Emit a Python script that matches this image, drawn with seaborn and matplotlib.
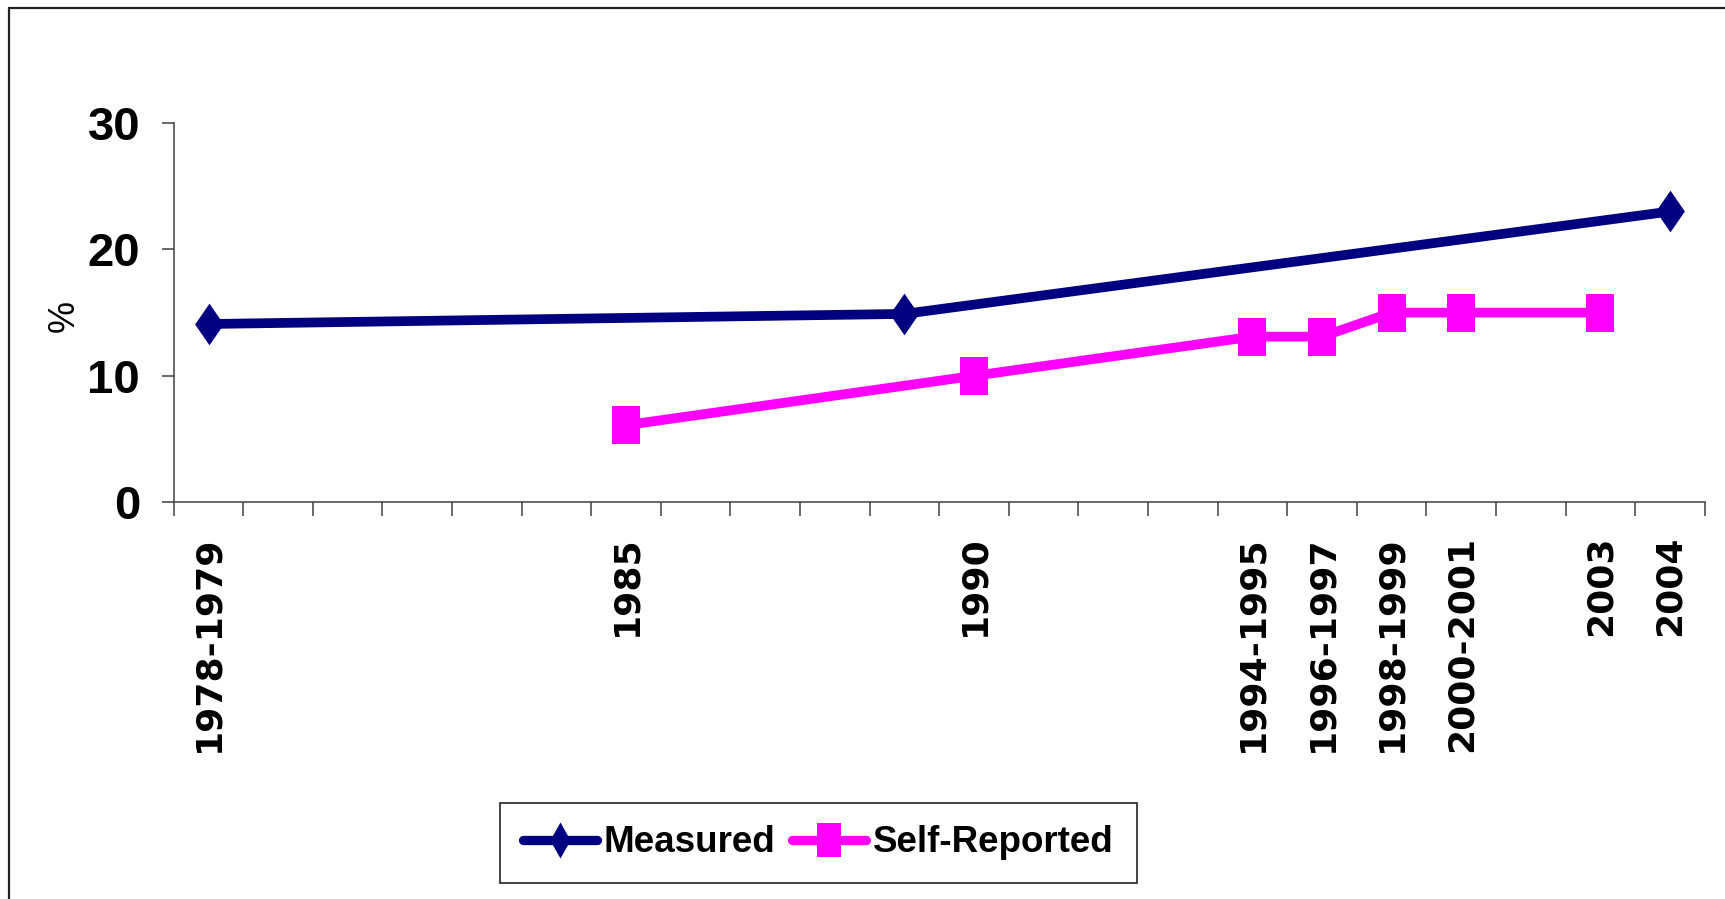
import numpy as np
import pandas as pd
import matplotlib
matplotlib.use("Agg")
import matplotlib.pyplot as plt
from matplotlib.path import Path
from matplotlib.lines import Line2D
import seaborn as sns

# Survey periods along the x axis; blank slots keep the spacing in time
period_labels = ["1978-1979", "", "", "", "", "", "1985", "", "", "", "", "1990",
                 "", "", "", "1994-1995", "1996-1997", "1998-1999", "2000-2001", "",
                 "2003", "2004"]
measured_pos = [0, 10, 21]
measured_pct = [14.1, 14.9, 23.0]
self_pos = [6, 11, 15, 16, 17, 18, 20]
self_pct = [6.1, 10.0, 13.1, 13.1, 15.0, 15.0, 15.0]
series_names = ["Measured", "Self-Reported"]
series_colors = ["#000080", "#FF00FF"]
y_ticks = [0, 10, 20, 30]

df = pd.concat([
    pd.DataFrame({"pos": measured_pos, "pct": measured_pct, "series": series_names[0]}),
    pd.DataFrame({"pos": self_pos, "pct": self_pct, "series": series_names[1]}),
], ignore_index=True)

sns.set_theme(style="white")
fam = ["Liberation Sans Narrow", "Liberation Sans", "DejaVu Sans"]
plt.rcParams["font.family"] = fam
plt.rcParams["text.color"] = "black"
plt.rcParams["xtick.color"] = "black"
plt.rcParams["ytick.color"] = "black"
plt.rcParams["axes.labelcolor"] = "black"

CODES = [Path.MOVETO, Path.LINETO, Path.LINETO, Path.LINETO, Path.CLOSEPOLY]


def tall_diamond(w):
    return Path([(0, 1), (w, 0), (0, -1), (-w, 0), (0, 1)], CODES)


def tall_square(w):
    return Path([(-w, -1), (w, -1), (w, 1), (-w, 1), (-w, -1)], CODES)


plot_markers = [tall_diamond(0.69), tall_square(0.72)]
plot_marker_sizes = [30, 28]
legend_markers = [tall_diamond(0.56), tall_square(0.70)]
legend_marker_sizes = [26, 24]

fig = plt.figure(figsize=(17.25, 8.99), dpi=100)
ax = fig.add_axes([0.1007, 0.4413, 0.8876, 0.4219])

sns.lineplot(data=df, x="pos", y="pct", hue="series", style="series",
             hue_order=series_names, style_order=series_names,
             palette=dict(zip(series_names, series_colors)),
             markers=dict(zip(series_names, plot_markers)),
             dashes=False, linewidth=7, markersize=plot_marker_sizes[0],
             markeredgewidth=0, ax=ax)

# line weight and marker size per series, matched by colour
for line in ax.lines:
    c = matplotlib.colors.to_hex(line.get_color()).lower()
    for col, ms in zip(series_colors, plot_marker_sizes):
        if c == col.lower():
            line.set_linewidth(7)
            line.set_markersize(ms)
            line.set_markeredgewidth(0)

ax.set_xlim(-0.5, len(period_labels) - 0.5)
ax.set_ylim(0, 30)

# category boundaries as ticks, names centred between them
ax.set_xticks(np.arange(-0.5, len(period_labels), 1.0))
ax.set_xticklabels([])
ax.set_xticks(np.arange(len(period_labels)), labels=period_labels, minor=True)
ax.tick_params(axis="x", which="major", bottom=True, direction="out",
               length=10, width=1.1, color="#404040")
ax.tick_params(axis="x", which="minor", bottom=True, length=0, pad=24)
for t in ax.get_xticklabels(minor=True):
    t.set_rotation(90)
    t.set_fontfamily("DejaVu Sans")
    t.set_fontweight("bold")
    t.set_fontsize(26)
    t.set_color("black")
    t.set_va("top")
    t.set_ha("center")

ax.set_yticks(y_ticks)
ax.tick_params(axis="y", left=True, direction="out", length=8.6, width=1.1,
               color="#404040", pad=15.5)
for t in ax.get_yticklabels():
    t.set_fontweight("bold")
    t.set_fontsize(34)
    t.set_color("black")

ax.set_xlabel("")
ax.set_ylabel("%", fontsize=26, family=["Liberation Sans", "DejaVu Sans"],
              rotation=90, color="black", va="center", ha="center")
ax.yaxis.set_label_coords(-0.0717, 0.491)

for side in ["top", "right"]:
    ax.spines[side].set_visible(False)
for side in ["left", "bottom"]:
    ax.spines[side].set_color("#404040")
    ax.spines[side].set_linewidth(1.1)

handles, labels = ax.get_legend_handles_labels()
leg = ax.legend(handles, labels, loc="center", ncol=2,
                bbox_to_anchor=(818.5 / 1725, 1 - 843 / 899),
                bbox_transform=fig.transFigure,
                prop={"family": fam, "weight": "bold", "size": 26.5},
                frameon=True, fancybox=False, shadow=False, framealpha=1,
                edgecolor="#222222", borderpad=0.62, handlelength=2.0,
                handletextpad=0.2, columnspacing=0.45, borderaxespad=0)
leg.get_frame().set_linewidth(1.2)
for h in leg.get_texts():
    h.set_color("black")
for h, mk, ms in zip(leg.legend_handles, legend_markers, legend_marker_sizes):
    h.set_linewidth(6.7)
    h.set_solid_capstyle("round")
    h.set_marker(mk)
    h.set_markersize(ms)
    h.set_markeredgewidth(0)

# outer frame along the left and top of the figure
fx, fy = 9 / 1725, 1 - 8 / 899
fig.add_artist(Line2D([fx, fx], [0, fy], transform=fig.transFigure, color="#222222", lw=1.6))
fig.add_artist(Line2D([fx, 1], [fy, fy], transform=fig.transFigure, color="#222222", lw=1.6))

fig.savefig("out.png", dpi=100)
